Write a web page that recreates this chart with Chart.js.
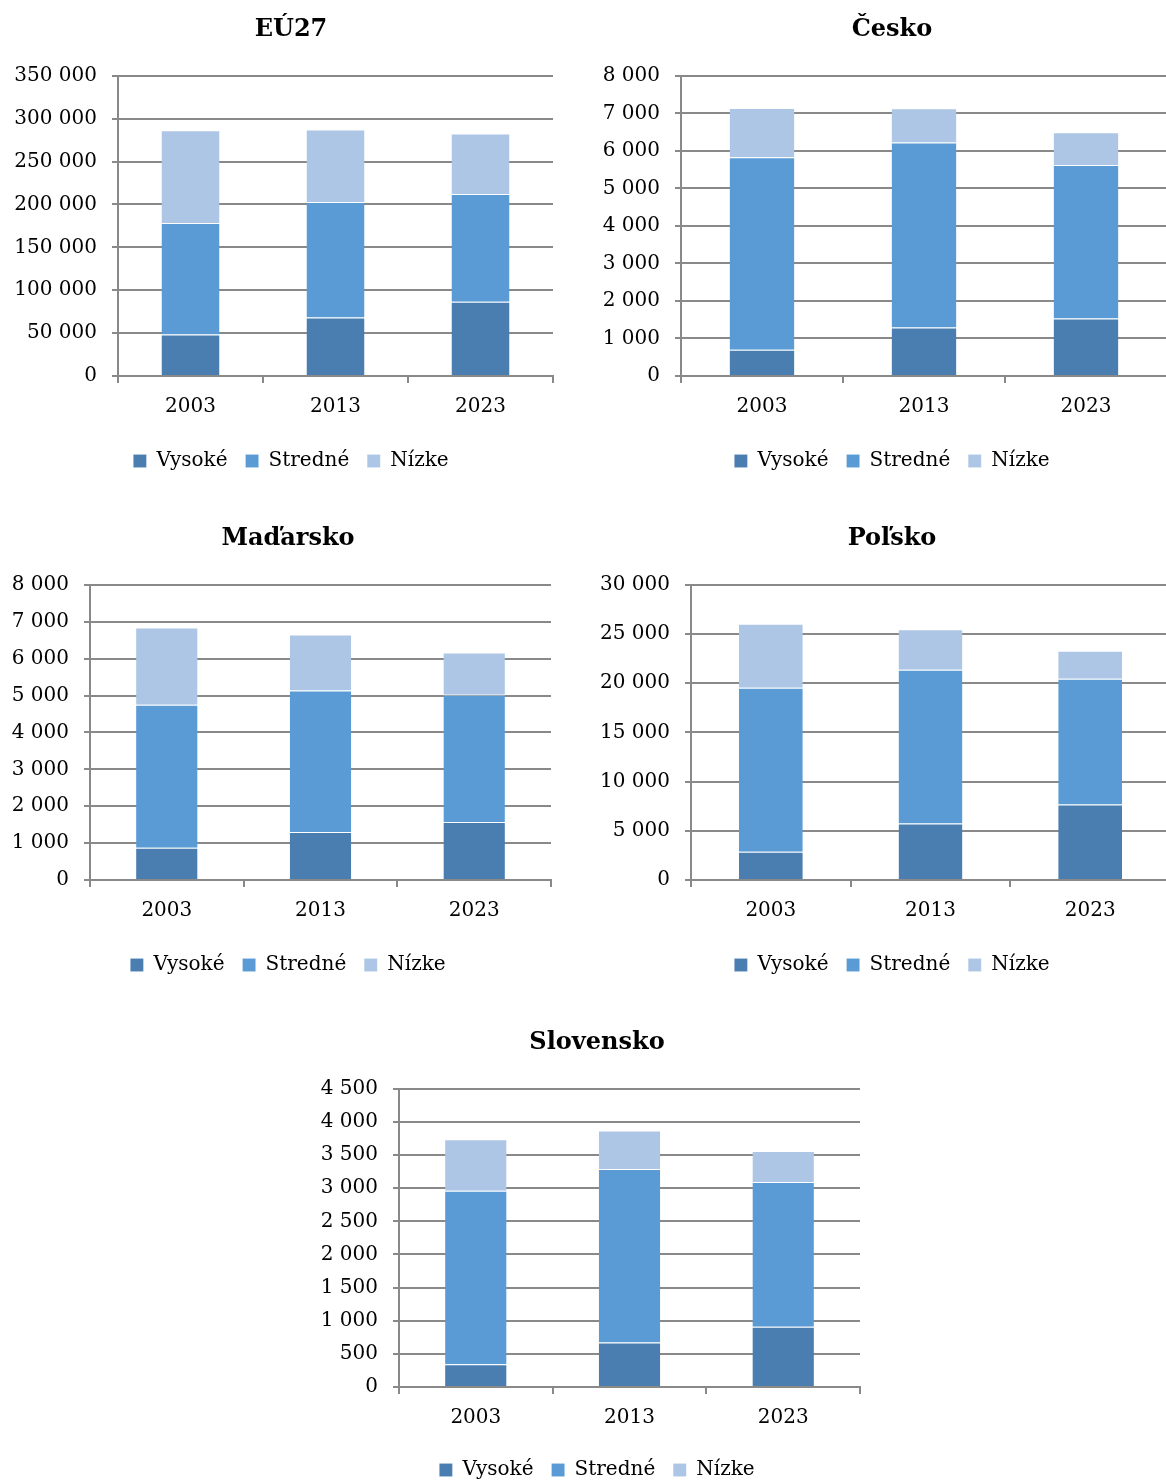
<!DOCTYPE html>
<html lang="sk">
<head>
<meta charset="utf-8">
<title>Vzdelanie – EÚ27, Česko, Maďarsko, Poľsko, Slovensko</title>
<script src="https://cdn.jsdelivr.net/npm/chart.js@4.4.1/dist/chart.umd.min.js"></script>
<style>
  html, body { margin: 0; padding: 0; background: #fff; }
  body { width: 1166px; height: 1481px; position: relative; overflow: hidden; }
  .box { position: absolute; }
</style>
</head>
<body>
<div class="box" id="box-eu"><canvas id="chart-eu"></canvas></div>
<div class="box" id="box-cz"><canvas id="chart-cz"></canvas></div>
<div class="box" id="box-hu"><canvas id="chart-hu"></canvas></div>
<div class="box" id="box-pl"><canvas id="chart-pl"></canvas></div>
<div class="box" id="box-sk"><canvas id="chart-sk"></canvas></div>
<script>
// Data
const categories = ['2003', '2013', '2023'];
const seriesNames = ['Vysoké', 'Stredné', 'Nízke'];

const euVysoke = [48300, 68200, 86500];
const euStredne = [130000, 134700, 125700];
const euNizke = [108300, 84500, 70500];

const czVysoke = [700, 1290, 1530];
const czStredne = [5130, 4930, 4090];
const czNizke = [1315, 915, 875];

const huVysoke = [875, 1300, 1570];
const huStredne = [3875, 3835, 3450];
const huNizke = [2090, 1515, 1145];

const plVysoke = [2880, 5750, 7680];
const plStredne = [16650, 15610, 12770];
const plNizke = [6500, 4130, 2840];

const skVysoke = [345, 670, 910];
const skStredne = [2615, 2620, 2185];
const skNizke = [780, 580, 465];

const axisMax = { eu: 350000, cz: 8000, hu: 8000, pl: 30000, sk: 4500 };
const axisStep = { eu: 50000, cz: 1000, hu: 1000, pl: 5000, sk: 500 };

// Styling
const FONT = 'DejaVu Serif';
const colors = ['#4a7eb0', '#5b9bd5', '#adc6e5'];
const gridColor = '#898989';

// Placement of each chart on the page
// yWidth = room left of the plot, rWidth = empty room right of it (keeps title/legend centred like the original)
const layouts = {
    eu: {left: 0, top: 0, width: 582, height: 482, yWidth: 118, rWidth: 29, titleTop: 15, titleBottom: 32, xHeight: 57},
    cz: {left: 580, top: 0, width: 624, height: 482, yWidth: 101, rWidth: 37, titleTop: 15, titleBottom: 32, xHeight: 57},
    hu: {left: 0, top: 505, width: 576, height: 481, yWidth: 90, rWidth: 25, titleTop: 19, titleBottom: 32, xHeight: 57},
    pl: {left: 580, top: 505, width: 624, height: 481, yWidth: 111, rWidth: 34, titleTop: 19, titleBottom: 32, xHeight: 57},
    sk: {left: 300, top: 1010, width: 594, height: 481, yWidth: 99, rWidth: 34, titleTop: 18, titleBottom: 32, xHeight: 55}
};

function fmt(v) {
    return String(v).replace(/\B(?=(\d{3})+(?!\d))/g, ' ');
}

function makeChart(key, title, series) {
    const lay = layouts[key];
    const box = document.getElementById('box-' + key);
    box.style.left = lay.left + 'px';
    box.style.top = lay.top + 'px';
    const canvas = document.getElementById('chart-' + key);
    canvas.width = lay.width;
    canvas.height = lay.height;

    return new Chart(canvas, {
        type: 'bar',
        data: {
            labels: categories,
            datasets: series.map((values, i) => ({
                label: seriesNames[i],
                data: values,
                backgroundColor: colors[i],
                borderColor: 'rgba(255,255,255,0.45)',
                borderWidth: {top: 1, left: 0, right: 0, bottom: 0},
                borderSkipped: false,
                categoryPercentage: 1,
                barPercentage: 0.4
            }))
        },
        options: {
            responsive: false,
            animation: false,
            devicePixelRatio: 1,
            layout: {padding: {left: 0, right: 0, top: 0, bottom: 1}},
            plugins: {
                title: {
                    display: true,
                    text: title,
                    color: '#000',
                    font: {family: FONT, size: 24, weight: 'bold'},
                    padding: {top: lay.titleTop, bottom: lay.titleBottom}
                },
                legend: {
                    position: 'bottom',
                    labels: {
                        color: '#000',
                        font: {family: FONT, size: 20},
                        boxWidth: 13,
                        boxHeight: 13,
                        padding: 18
                    }
                },
                tooltip: {enabled: false}
            },
            scales: {
                x: {
                    stacked: true,
                    afterFit: s => { s.height = lay.xHeight; },
                    grid: {drawOnChartArea: false, color: gridColor, lineWidth: 2, tickLength: 7},
                    border: {color: gridColor, width: 2},
                    ticks: {color: '#000', font: {family: FONT, size: 20}, padding: 12}
                },
                y: {
                    stacked: true,
                    min: 0,
                    max: axisMax[key],
                    afterFit: s => { s.width = lay.yWidth; },
                    grid: {color: gridColor, lineWidth: 2, tickLength: 6},
                    border: {color: gridColor, width: 2},
                    ticks: {
                        stepSize: axisStep[key],
                        color: '#000',
                        font: {family: FONT, size: 20},
                        padding: 15,
                        callback: v => fmt(v)
                    }
                },
                spacer: {
                    type: 'linear',
                    position: 'right',
                    afterFit: s => { s.width = lay.rWidth; },
                    grid: {display: false},
                    border: {display: false},
                    ticks: {display: false}
                }
            }
        }
    });
}

makeChart('eu', 'EÚ27', [euVysoke, euStredne, euNizke]);
makeChart('cz', 'Česko', [czVysoke, czStredne, czNizke]);
makeChart('hu', 'Maďarsko', [huVysoke, huStredne, huNizke]);
makeChart('pl', 'Poľsko', [plVysoke, plStredne, plNizke]);
makeChart('sk', 'Slovensko', [skVysoke, skStredne, skNizke]);
</script>
</body>
</html>
